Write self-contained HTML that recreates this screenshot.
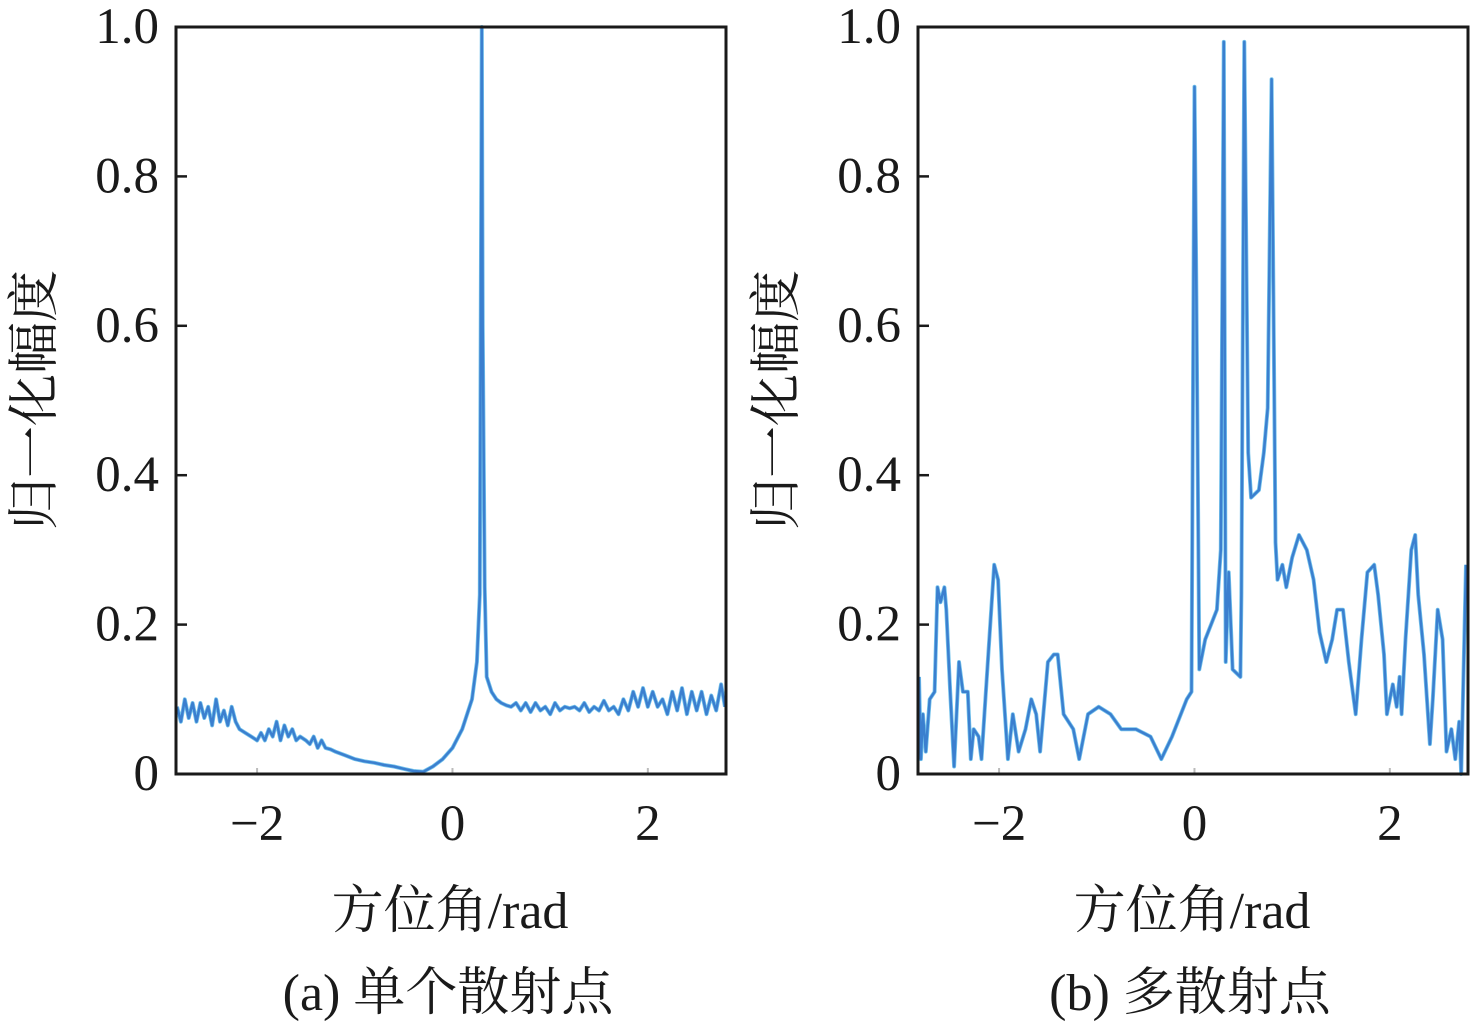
<!DOCTYPE html>
<html><head><meta charset="utf-8"><style>
html,body{margin:0;padding:0;background:#fff;}
svg{display:block;}
text{font-family:"Liberation Serif","Noto Serif CJK SC",serif;fill:#1a1a1a;}
</style></head><body>
<svg id="chart" width="1476" height="1023" viewBox="0 0 1476 1023" xmlns="http://www.w3.org/2000/svg"></svg>
<script>
const yTicks=[0,0.2,0.4,0.6,0.8,1.0];
const yTickLabels=["0","0.2","0.4","0.6","0.8","1.0"];
const xTicks=[-2,0,2];
const xTickLabels=["\u22122","0","2"];
const singleX=[-2.82,-2.78,-2.74,-2.70,-2.66,-2.62,-2.58,-2.54,-2.50,-2.46,-2.42,-2.38,-2.34,-2.30,-2.26,-2.22,-2.18,-2.12,-2.06,-2.0,-1.96,-1.92,-1.88,-1.84,-1.80,-1.76,-1.72,-1.68,-1.64,-1.60,-1.56,-1.50,-1.46,-1.42,-1.38,-1.34,-1.30,-1.25,-1.2,-1.1,-1.0,-0.9,-0.8,-0.7,-0.6,-0.5,-0.4,-0.3,-0.2,-0.1,0,0.1,0.2,0.25,0.28,0.30,0.31,0.33,0.35,0.40,0.45,0.5,0.55,0.6,0.65,0.7,0.75,0.8,0.85,0.9,0.95,1.0,1.05,1.1,1.15,1.2,1.25,1.3,1.35,1.4,1.45,1.5,1.55,1.6,1.65,1.7,1.75,1.8,1.85,1.9,1.95,2.0,2.05,2.1,2.15,2.2,2.25,2.3,2.35,2.4,2.45,2.5,2.55,2.6,2.65,2.7,2.75,2.79];
const singleY=[.09,.07,.10,.075,.095,.07,.095,.075,.09,.065,.10,.07,.085,.065,.09,.07,.06,.055,.05,.045,.055,.045,.06,.05,.07,.045,.065,.05,.06,.045,.05,.045,.04,.05,.035,.045,.035,.033,.03,.025,.02,.017,.015,.012,.01,.007,.004,.003,.01,.02,.035,.06,.10,.15,.24,1.0,.6,.25,.13,.11,.10,.095,.092,.09,.095,.085,.095,.083,.095,.085,.09,.08,.095,.085,.09,.088,.09,.085,.095,.083,.09,.085,.098,.085,.09,.08,.10,.085,.11,.09,.115,.09,.11,.09,.10,.08,.11,.085,.115,.08,.11,.085,.11,.08,.105,.085,.12,.09];
const multiX=[-2.82,-2.80,-2.78,-2.75,-2.71,-2.66,-2.63,-2.60,-2.56,-2.54,-2.50,-2.46,-2.41,-2.37,-2.32,-2.29,-2.26,-2.21,-2.18,-2.11,-2.05,-2.01,-1.97,-1.91,-1.86,-1.80,-1.73,-1.67,-1.62,-1.58,-1.50,-1.44,-1.40,-1.34,-1.24,-1.18,-1.09,-0.98,-0.86,-0.75,-0.60,-0.45,-0.34,-0.23,-0.08,-0.03,0.0,0.02,0.04,0.05,0.11,0.23,0.27,0.30,0.32,0.35,0.39,0.47,0.48,0.51,0.55,0.58,0.66,0.71,0.75,0.79,0.83,0.85,0.90,0.94,1.00,1.07,1.15,1.22,1.28,1.35,1.41,1.46,1.52,1.58,1.65,1.71,1.77,1.84,1.88,1.94,1.97,2.03,2.07,2.10,2.12,2.16,2.22,2.26,2.29,2.35,2.41,2.44,2.49,2.54,2.58,2.63,2.67,2.71,2.73,2.78];
const multiY=[.13,.02,.08,.03,.10,.11,.25,.23,.25,.22,.11,.01,.15,.11,.11,.02,.06,.05,.02,.16,.28,.26,.14,.02,.08,.03,.06,.10,.08,.03,.15,.16,.16,.08,.06,.02,.08,.09,.08,.06,.06,.05,.02,.05,.10,.11,.92,.64,.30,.14,.18,.22,.30,.98,.15,.27,.14,.13,.24,.98,.43,.37,.38,.43,.49,.93,.31,.26,.28,.25,.29,.32,.30,.26,.19,.15,.18,.22,.22,.15,.08,.18,.27,.28,.24,.16,.08,.12,.09,.13,.08,.18,.30,.32,.24,.16,.04,.10,.22,.18,.03,.06,.02,.07,0,.28];

const svg=document.getElementById('chart');
const NS='http://www.w3.org/2000/svg';
function mk(tag,attrs,parent){const e=document.createElementNS(NS,tag);for(const k in attrs)e.setAttribute(k,attrs[k]);(parent||svg).appendChild(e);return e;}
const XMIN=-2.83,XMAX=2.80;
function drawPanel(left,xs,ys,caption,key){
  const L=left,R=left+550,T=27,B=774;
  const sx=v=>L+(v-XMIN)/(XMAX-XMIN)*(R-L);
  const sy=v=>B-v*(B-T);
  const g=mk('g',{});
  
  
  xTicks.forEach((t,i)=>{
    const tk=mk('line',{x1:sx(t),x2:sx(t),y1:B,y2:B-6,stroke:'#bbb','stroke-width':2},g);
    
    
    const tl=mk('text',{x:sx(t),y:840,'font-size':51,'text-anchor':'middle'},g);
    tl.textContent=xTickLabels[i];
    
    
  });
  yTicks.forEach((t,i)=>{
    const tk=mk('line',{x1:L,x2:L+11,y1:sy(t),y2:sy(t),stroke:'#1a1a1a','stroke-width':2.5},g);
    
    
    const tl=mk('text',{x:L-17,y:sy(t)+16,'font-size':51,'text-anchor':'end'},g);
    tl.textContent=yTickLabels[i];
    
    
  });
  const pts=xs.map((x,i)=>sx(x).toFixed(1)+','+sy(ys[i]).toFixed(1)).join(' ');
  const u=mk('polyline',{points:pts,fill:'none',stroke:'#74c3ec','stroke-width':4,'stroke-linejoin':'round'},g);
  
  
  const p=mk('polyline',{points:pts,fill:'none',stroke:'#3b7fcf','stroke-width':2.5,'stroke-linejoin':'round'},g);
  
  
  const fr=mk('rect',{x:L,y:T,width:R-L,height:B-T,fill:'none',stroke:'#1a1a1a','stroke-width':3},g);
  
  
  const yt=mk('text',{x:0,y:0,'font-size':52,'text-anchor':'middle',transform:`translate(${L-124},${400}) rotate(-90)`,style:'font-family:"Noto Serif CJK SC",serif'},g);
  yt.textContent='归一化幅度';
  
  
  const xt=mk('text',{x:(L+R)/2-1,y:928,'font-size':52,'text-anchor':'middle'},g);
  xt.textContent='方位角/rad';
  
  
  const cp=mk('text',{x:(L+R)/2-3,y:1010,'font-size':52,'text-anchor':'middle'},g);
  cp.textContent=caption;
  
  
}
drawPanel(176,singleX,singleY,'(a) 单个散射点','single');
drawPanel(918,multiX,multiY,'(b) 多散射点','multi');
</script>
</body></html>
